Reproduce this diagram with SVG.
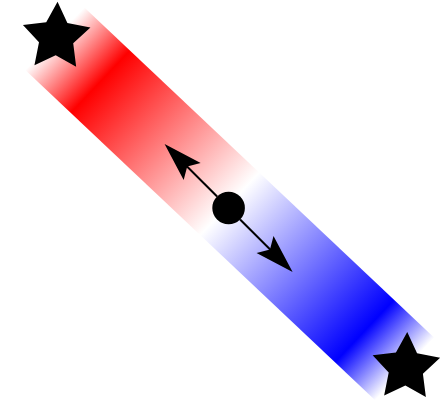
<svg xmlns="http://www.w3.org/2000/svg" width="442" height="403" viewBox="0 0 442 403">
  <defs>
    <linearGradient id="bandGrad" x1="0" y1="0" x2="1" y2="0">
      <stop offset="0" stop-color="#ffffff"/>
      <stop offset="0.13" stop-color="#ff0000"/>
      <stop offset="0.5" stop-color="#ffffff"/>
      <stop offset="0.885" stop-color="#0000ff"/>
      <stop offset="1" stop-color="#ffffff"/>
    </linearGradient>
    <path id="star" d="M0,-35.5 L10.58,-14.56 L33.76,-10.97 L17.12,5.56 L20.87,28.72 L0,18 L-20.87,28.72 L-17.12,5.56 L-33.76,-10.97 L-10.58,-14.56 Z"/>
    <marker id="head" markerUnits="userSpaceOnUse" markerWidth="50" markerHeight="30" viewBox="-45 -15 50 30" refX="-30" refY="0" orient="auto" overflow="visible">
      <path d="M0,0 L-39,-12 L-32,0 L-39,12 Z" fill="#000"/>
    </marker>
  </defs>
  <style>
    .arrow { stroke: #000; stroke-width: 2; fill: none; marker-end: url(#head); }
    .star { fill: #000; }
  </style>
  <g id="band">
    <rect x="0" y="-41" width="481.2" height="86" fill="url(#bandGrad)" transform="translate(56.2,37.2) rotate(43.35)"/>
  </g>
  <g id="star1">
    <use href="#star" class="star" transform="translate(56.3,37.2) rotate(2)"/>
  </g>
  <g id="star2">
    <use href="#star" class="star" transform="translate(406,367.5) rotate(2)"/>
  </g>
  <g id="connectors">
    <line class="arrow" x1="217.1" y1="196.5" x2="185.8" y2="165.2"/>
    <line class="arrow" x1="240.1" y1="219.5" x2="271.4" y2="250.8"/>
  </g>
  <g id="dot">
    <circle cx="228.6" cy="208" r="16.3" fill="#000"/>
  </g>
</svg>
